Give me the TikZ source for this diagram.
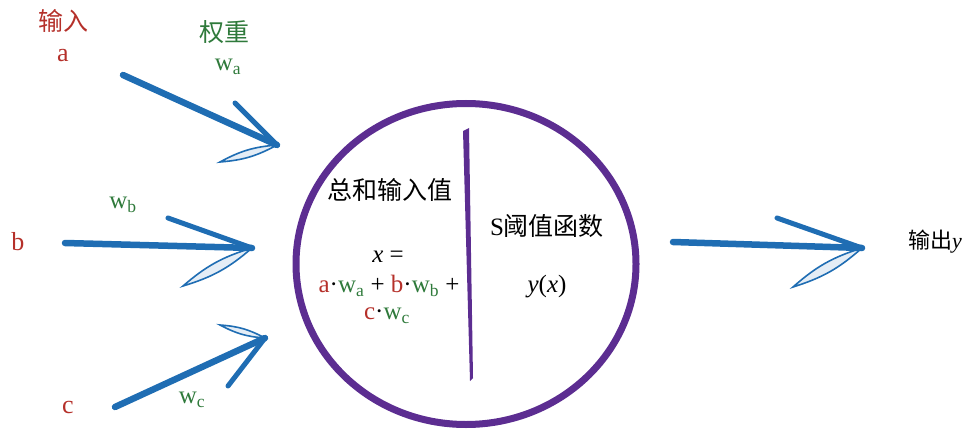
\documentclass[tikz,border=0pt]{standalone}
\usepackage{fontspec}
\setmainfont{Liberation Serif}
\newfontfamily\cjk{Noto Sans CJK SC}
\usepackage{xcolor}
\usepackage{tikz}
\usetikzlibrary{shapes.geometric}
\definecolor{InRed}{HTML}{B5302A}
\definecolor{WtGreen}{HTML}{2F7A3B}
\definecolor{ArrBlue}{HTML}{1F6DB3}
\definecolor{NeuPurple}{HTML}{5C2D91}

\begin{document}
\begin{tikzpicture}[x=1pt, y=-1pt,
  inred/.style={text=InRed, inner sep=1pt, font=\fontsize{26}{28}\selectfont},
  wgreen/.style={text=WtGreen, inner sep=1pt, font=\fontsize{25}{27}\selectfont},
  body/.style={inner sep=1pt, font=\fontsize{25}{27}\selectfont},
  shaft/.style={ArrBlue, line width=6.5pt, line cap=round},
  barb/.style={ArrBlue, line width=5pt, line cap=round},
  leaf/.style={ArrBlue, line width=1.6pt, fill=ArrBlue!12}]
  \useasboundingbox (0,0) rectangle (979,433);

  % inputs and weights
  \node[inred, font=\fontsize{25}{27}\selectfont] (intitle) at (63,21) {\cjk 输入};
  \node[inred] (ina) at (63,56) {a};
  \node[wgreen, font=\fontsize{25}{27}\selectfont] (wtitle) at (224,32) {\cjk 权重};
  \node[wgreen] (wa) at (228,67) {w\textsubscript{a}};
  \node[inred] (inb) at (18,242) {b};
  \node[wgreen] (wb) at (123,205) {w\textsubscript{b}};
  \node[inred] (inc) at (68,407) {c};
  \node[wgreen] (wc) at (192,400) {w\textsubscript{c}};

  % neuron
  \node[draw=NeuPurple, line width=7pt, ellipse, minimum width=340pt,
        minimum height=321pt, inner sep=0pt] (neuron) at (466,264) {};
  \fill[NeuPurple] (463,131) -- (469,128) -- (473,378) -- (470,381) -- cycle;
  \node[body] (sumtitle) at (390,190) {\cjk 总和输入值};
  \node[body] (xeq) at (388,257) {\textit{x} =};
  \node[body] (sumab) at (389,286)
    {{\color{InRed}a}·{\color{WtGreen}w\textsubscript{a}} + {\color{InRed}b}·{\color{WtGreen}w\textsubscript{b}} +};
  \node[body] (sumc) at (387,316) {{\color{InRed}c}·{\color{WtGreen}w\textsubscript{c}}};
  \node[body] (stitle) at (547,226) {S{\cjk 阈值函数}};
  \node[body] (yx) at (547,287) {\textit{y}(\textit{x})};
  \node[body, font=\fontsize{22}{24}\selectfont] (outlbl) at (935,242) {{\cjk 输出}\textit{y}};

  % arrows
  \coordinate (a0) at (123,75);  \coordinate (at) at (277,145);
  \coordinate (au) at (235,103); \coordinate (al) at (220,162);
  \coordinate (b0) at (65,243);  \coordinate (bt) at (252,248);
  \coordinate (bu) at (168,218); \coordinate (bl) at (183,286);
  \coordinate (c0) at (115,407); \coordinate (ct) at (265,338);
  \coordinate (cu) at (228,386); \coordinate (cl) at (220,325);
  \coordinate (y0) at (673,242); \coordinate (yt) at (862,248);
  \coordinate (yu) at (777,218); \coordinate (yl) at (793,287);

  \draw[leaf] (at) to[bend left=12] (al) to[bend left=12] (at);
  \draw[shaft] (a0) -- (at);
  \draw[barb] (at) -- (au);

  \draw[leaf] (bt) to[bend left=12] (bl) to[bend left=12] (bt);
  \draw[shaft] (b0) -- (bt);
  \draw[barb] (bt) -- (bu);

  \draw[leaf] (ct) to[bend left=12] (cl) to[bend left=12] (ct);
  \draw[shaft] (c0) -- (ct);
  \draw[barb] (ct) -- (cu);

  \draw[leaf] (yt) to[bend left=12] (yl) to[bend left=12] (yt);
  \draw[shaft] (y0) -- (yt);
  \draw[barb] (yt) -- (yu);
\end{tikzpicture}
\end{document}
